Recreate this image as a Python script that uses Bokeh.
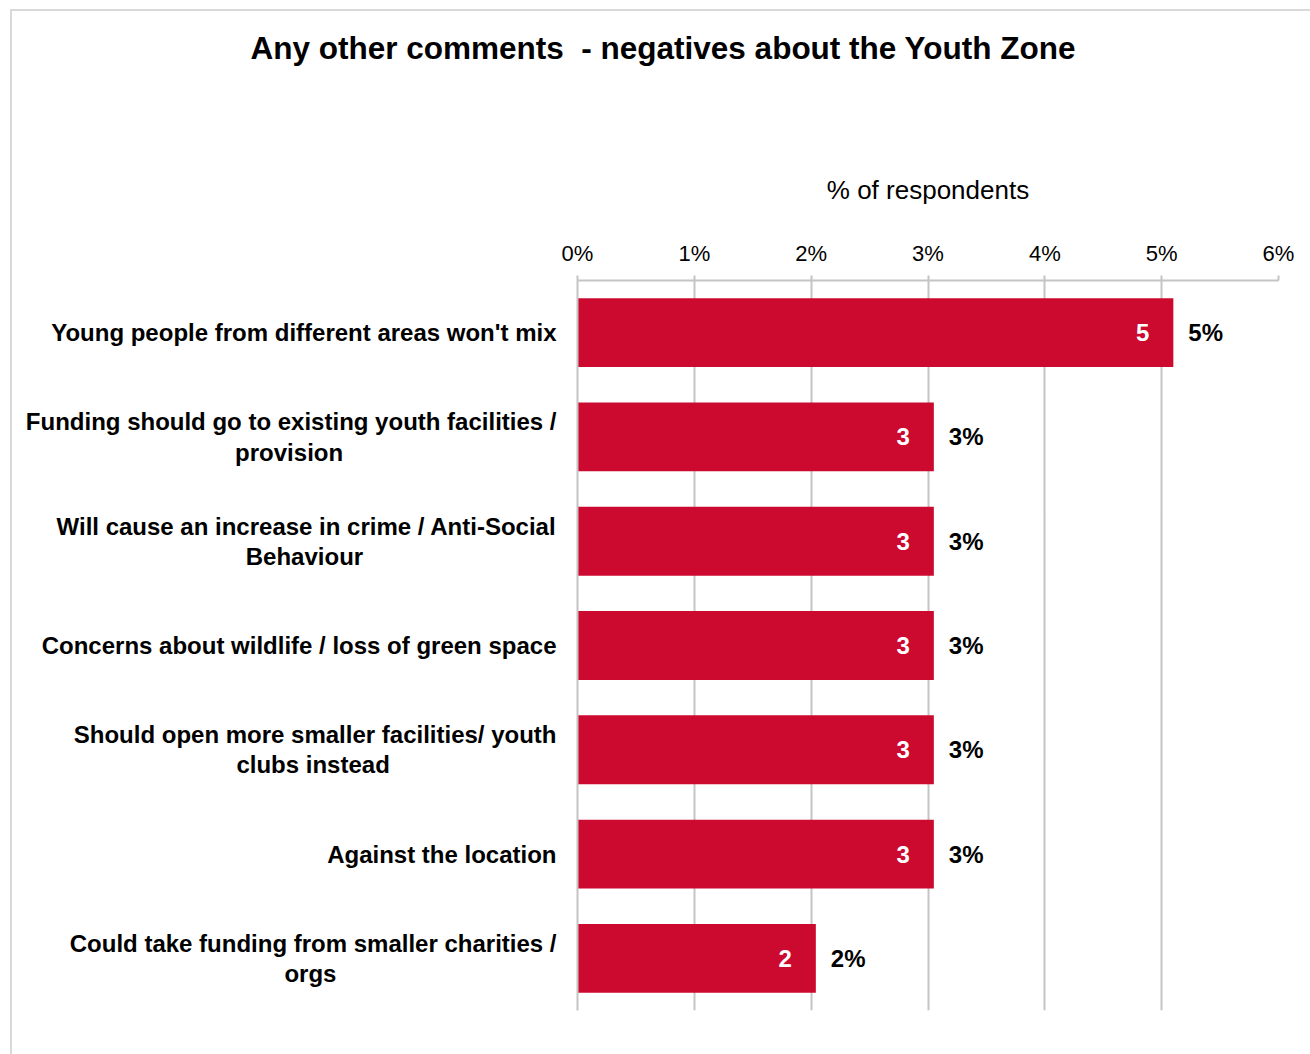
from bokeh.plotting import figure
from bokeh.models import Range1d, FixedTicker, PrintfTickFormatter, LinearAxis, Title, ColumnDataSource
from bokeh.core.properties import value
from bokeh.embed import file_html
from bokeh.resources import INLINE

# ---- data ----
categories = [
    "Young people from different areas won't mix",
    "Funding should go to existing youth facilities /\nprovision",
    "Will cause an increase in crime / Anti-Social\nBehaviour",
    "Concerns about wildlife / loss of green space",
    "Should open more smaller facilities/ youth\nclubs instead",
    "Against the location",
    "Could take funding from smaller charities /\norgs",
]
values = [5.1, 3.05, 3.05, 3.05, 3.05, 3.05, 2.04]
tick_values = [0, 1, 2, 3, 4, 5, 6]
title_text = "Any other comments\u00a0 - negatives about the Youth Zone"
axis_title = "% of respondents"

# layout only: trailing no-break spaces that centre the 2nd line under the 1st
second_line_pad = [0, 32, 29, 0, 25, 0, 33]

BAR = "#CC0A2F"
GRID = "#c4c4c4"
FONT = "Liberation Sans"

ypos = [i + 0.5 for i in range(len(categories))]
src = ColumnDataSource(dict(
    y=ypos,
    v=values,
    inner=[f"{round(v)}" for v in values],
    outer=[f"{round(v)}%" for v in values],
))

def padded(label, n):
    lines = label.split("\n")
    if len(lines) > 1:
        lines[-1] = lines[-1] + "\u00a0" * n
    return "\n".join(lines)

p = figure(
    frame_width=701, frame_height=730,
    min_border_left=565, min_border_right=32, min_border_top=269, min_border_bottom=44,
    x_range=Range1d(0, 6), y_range=Range1d(len(categories), 0),
    x_axis_location=None, y_axis_location=None,
    toolbar_location=None, output_backend="svg",
)
p.margin = (11, 0, 0, 12)
p.styles = {"outline": "2px solid #d9d9d9"}
p.outline_line_color = None
p.background_fill_color = "white"
p.border_fill_color = "white"

# top value axis
ax = LinearAxis(
    ticker=FixedTicker(ticks=tick_values),
    formatter=PrintfTickFormatter(format="%d%%"),
    axis_label=axis_title,
)
ax.axis_line_color = GRID
ax.axis_line_width = 2
ax.major_tick_line_color = GRID
ax.major_tick_line_width = 2
ax.major_tick_out = 5
ax.major_tick_in = 0
ax.minor_tick_line_color = None
ax.major_label_text_font = FONT
ax.major_label_text_font_size = "22px"
ax.major_label_text_color = "#000000"
ax.major_label_standoff = 10
ax.axis_label_text_font = FONT
ax.axis_label_text_font_size = "26px"
ax.axis_label_text_font_style = "normal"
ax.axis_label_text_color = "#000000"
ax.axis_label_standoff = 33
p.add_layout(ax, "above")

# empty spacer panel between the axis title and the chart title
spacer = LinearAxis(ticker=FixedTicker(ticks=[]), axis_label="\u00a0")
spacer.axis_line_color = None
spacer.major_tick_line_color = None
spacer.minor_tick_line_color = None
spacer.major_tick_out = 0
spacer.major_label_text_font_size = "0px"
spacer.axis_label_text_font_size = "1px"
spacer.axis_label_standoff = 95
p.add_layout(spacer, "above")

# left category axis
cax = LinearAxis(ticker=FixedTicker(ticks=ypos))
cax.major_label_overrides = {y: padded(c, n) for y, c, n in zip(ypos, categories, second_line_pad)}
cax.axis_line_color = GRID
cax.axis_line_width = 2
cax.major_tick_line_color = None
cax.major_tick_out = 0
cax.major_tick_in = 0
cax.minor_tick_line_color = None
cax.major_label_standoff = 21
cax.major_label_text_font = FONT
cax.major_label_text_font_size = "24px"
cax.major_label_text_font_style = "bold"
cax.major_label_text_color = "#000000"
cax.major_label_text_line_height = 1.12
p.add_layout(cax, "left")

p.xgrid.ticker = FixedTicker(ticks=tick_values)
p.xgrid.grid_line_color = GRID
p.xgrid.grid_line_width = 2
p.ygrid.grid_line_color = None

p.hbar(y="y", right="v", left=0, height=0.66, source=src, fill_color=BAR, line_color=None)

p.text(x="v", y="y", text="inner", source=src, x_offset=-24, text_align="right",
       text_baseline="middle", text_color="white", text_font=value(FONT),
       text_font_size="24px", text_font_style="bold")
p.text(x="v", y="y", text="outer", source=src, x_offset=15, text_align="left",
       text_baseline="middle", text_color="#000000", text_font=value(FONT),
       text_font_size="24px", text_font_style="bold")

# title, shifted left to sit over the whole chart
p.title = Title(text=title_text, align="left", offset=-327, vertical_align="top")
p.title.text_font = FONT
p.title.text_font_size = "31.5px"
p.title.text_font_style = "bold"
p.title.text_color = "#000000"
if "standoff" in Title.properties():
    p.title.standoff = 10

open("out.html", "w").write(file_html(p, INLINE))
